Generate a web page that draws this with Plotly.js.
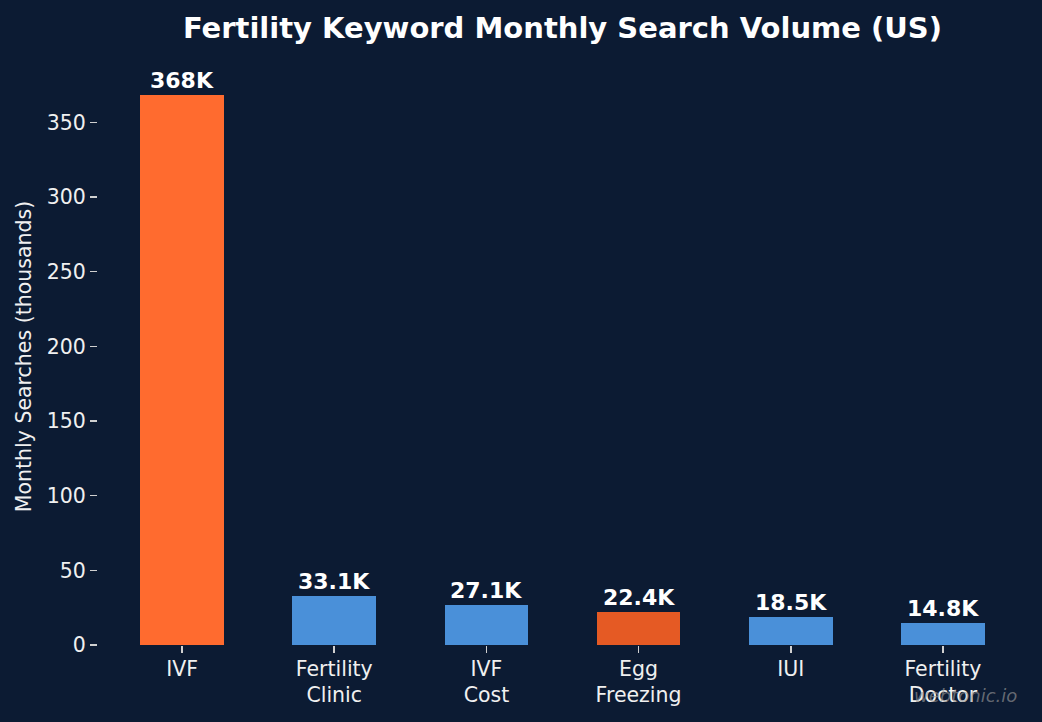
<!DOCTYPE html>
<html>
<head>
<meta charset="utf-8">
<script src="https://cdn.plot.ly/plotly-3.0.1.min.js"></script>
<style>
  html, body { margin: 0; padding: 0; background: #0c1b33; }
  #chart { width: 1042px; height: 722px; }
</style>
</head>
<body>
<div id="chart"></div>
<script>
// Monthly US search volume for fertility keywords (thousands)
const keywords = ["IVF", "Fertility<br>Clinic", "IVF<br>Cost", "Egg<br>Freezing", "IUI", "Fertility<br>Doctor"];
const searches = [368, 33.1, 27.1, 22.4, 18.5, 14.8];
const barColors = ["#ff6b2f", "#4a90d9", "#4a90d9", "#e55a24", "#4a90d9", "#4a90d9"];
const yTicks = [0, 50, 100, 150, 200, 250, 300, 350];

const fontFamily = "DejaVu Sans, sans-serif";
const textColor = "#f0f0f0";

const valueLabels = searches.map(v => v + "K");

const trace = {
  type: "bar",
  x: keywords,
  y: searches,
  width: 0.55,
  marker: { color: barColors, line: { width: 0 } },
  hoverinfo: "x+y",
  showlegend: false
};

// Bold value label above each bar
const annotations = keywords.map((k, i) => ({
  x: k,
  y: searches[i],
  xref: "x",
  yref: "y",
  text: "<b>" + valueLabels[i] + "</b>",
  showarrow: false,
  yanchor: "bottom",
  yshift: 0,
  font: { family: fontFamily, size: 22, color: "#ffffff" }
}));

// Site mark in the lower right corner
annotations.push({
  xref: "paper",
  yref: "paper",
  x: 1.0,
  y: 0,
  xanchor: "right",
  yanchor: "top",
  yshift: -38,
  xshift: -8,
  text: "webtonic.io",
  showarrow: false,
  font: { family: fontFamily, size: 18, color: "rgba(150,150,150,0.65)", style: "italic" }
});

const layout = {
  width: 1042,
  height: 722,
  paper_bgcolor: "#0c1b33",
  plot_bgcolor: "#0c1b33",
  margin: { l: 98, r: 15, t: 68, b: 77 },
  font: { family: fontFamily, color: textColor, size: 18 },
  title: {
    text: "<b>Fertility Keyword Monthly Search Volume (US)</b>",
    font: { family: fontFamily, size: 29, color: "#ffffff" },
    x: 0.5398,
    xanchor: "center",
    xref: "container",
    y: 1 - 28 / 722,
    yref: "container",
    yanchor: "middle"
  },
  xaxis: {
    type: "category",
    range: [-0.5525, 5.5525],
    showgrid: false,
    zeroline: false,
    showline: false,
    ticks: "outside",
    ticklen: 7,
    tickwidth: 1.5,
    tickcolor: "#d0d0d0",
    ticklabelstandoff: -2,
    tickfont: { family: fontFamily, size: 20.5, color: textColor },
    fixedrange: true
  },
  yaxis: {
    range: [0, 386.4],
    tickvals: yTicks,
    ticktext: yTicks.map(String),
    showgrid: false,
    zeroline: false,
    showline: false,
    ticks: "outside",
    ticklen: 7,
    tickwidth: 1.5,
    tickcolor: "#d0d0d0",
    tickfont: { family: fontFamily, size: 20.5, color: textColor },
    title: { text: "Monthly Searches (thousands)", font: { family: fontFamily, size: 20.5, color: textColor }, standoff: 9 },
    fixedrange: true
  },
  annotations: annotations,
  bargap: 0
};

Plotly.newPlot("chart", [trace], layout, { displayModeBar: false, staticPlot: true });
</script>
</body>
</html>
